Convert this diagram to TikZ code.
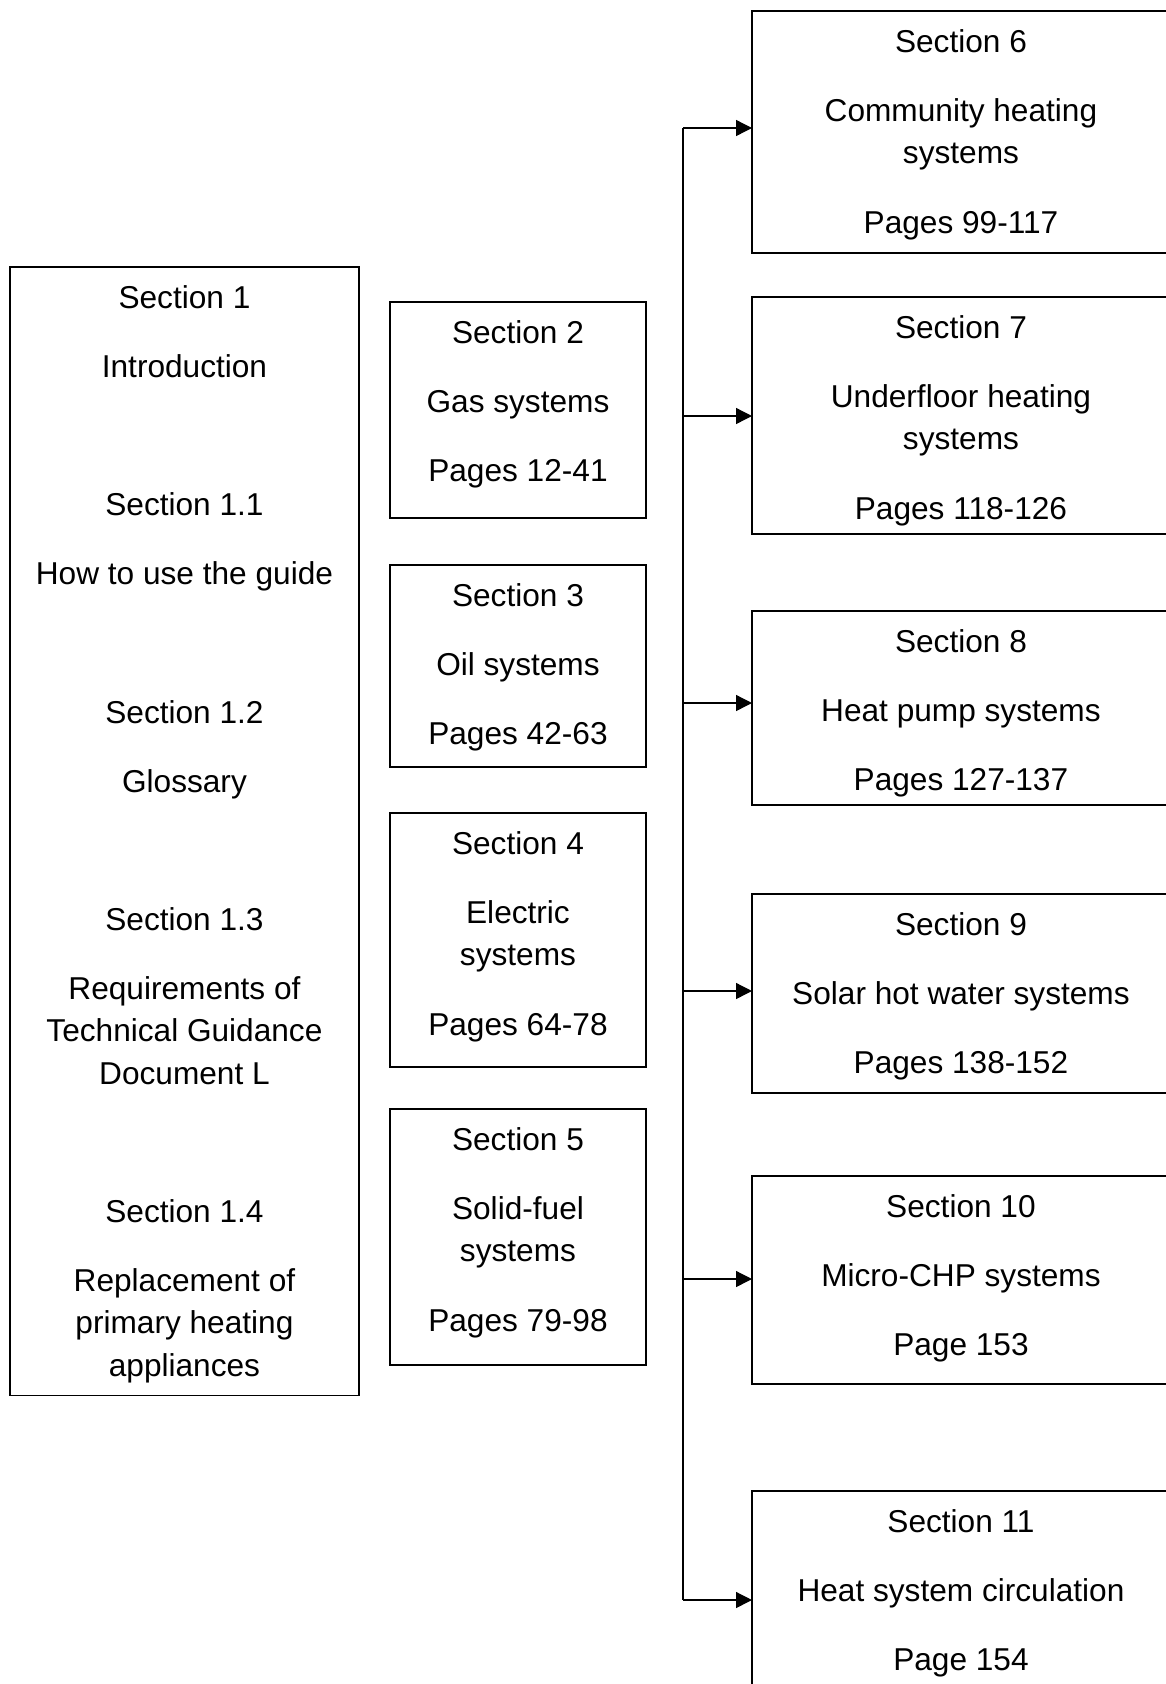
\documentclass[tikz,border=0pt]{standalone}
\usepackage{fontspec}
\setmainfont{Liberation Sans}
\usetikzlibrary{arrows.meta, positioning}
\tikzstyle{box} = [draw, line width=0.75pt, inner sep=0pt, outer sep=0pt, anchor=north west]
\tikzstyle{arrow} = [line width=0.75pt, -{Triangle[length=9pt, width=9pt]}]
\newcommand{\boxtext}[3]{\parbox[t][#2][t]{#1}{\centering\fontsize{18}{24.1}\selectfont\vspace*{6.8pt}\strut #3}}
\newcommand{\pgap}{\\[15.2pt]}
\newcommand{\bgap}{\\[54.6pt]}

\begin{document}
\begin{tikzpicture}[x=0.02cm, y=-0.02cm]
    \useasboundingbox (0,0) rectangle (1166,1684);
    \clip (0,0) rectangle (1166,1684);

    % Section 1
    \node[box] (s1) at (10,267) {\boxtext{6.98cm}{22.58cm}{Section 1\pgap Introduction\bgap
        Section 1.1\pgap How to use the guide\bgap
        Section 1.2\pgap Glossary\bgap
        Section 1.3\pgap Requirements of\\ Technical Guidance\\ Document L\bgap
        Section 1.4\pgap Replacement of\\ primary heating\\ appliances}};

    % Sections 2-5
    \node[box] (s2) at (390,302) {\boxtext{5.12cm}{4.32cm}{Section 2\pgap Gas systems\pgap Pages 12-41}};
    \node[box] (s3) at (390,565) {\boxtext{5.12cm}{4.04cm}{Section 3\pgap Oil systems\pgap Pages 42-63}};
    \node[box] (s4) at (390,813) {\boxtext{5.12cm}{5.08cm}{Section 4\pgap Electric\\ systems\pgap Pages 64-78}};
    \node[box] (s5) at (390,1109) {\boxtext{5.12cm}{5.12cm}{Section 5\pgap Solid-fuel\\ systems\pgap Pages 79-98}};

    % Sections 6-11
    \node[box] (s6) at (752,11) {\boxtext{8.36cm}{4.84cm}{Section 6\pgap Community heating\\ systems\pgap Pages 99-117}};
    \node[box] (s7) at (752,297) {\boxtext{8.36cm}{4.74cm}{Section 7\pgap Underfloor heating\\ systems\pgap Pages 118-126}};
    \node[box] (s8) at (752,611) {\boxtext{8.36cm}{3.88cm}{Section 8\pgap Heat pump systems\pgap Pages 127-137}};
    \node[box] (s9) at (752,894) {\boxtext{8.36cm}{3.98cm}{Section 9\pgap Solar hot water systems\pgap Pages 138-152}};
    \node[box] (s10) at (752,1176) {\boxtext{8.36cm}{4.16cm}{Section 10\pgap Micro-CHP systems\pgap Page 153}};
    \node[box] (s11) at (752,1491) {\boxtext{8.36cm}{4.80cm}{Section 11\pgap Heat system circulation\pgap Page 154}};

    % Arrows
    \foreach \n/\y in {6/128, 7/416, 8/703, 9/991, 10/1279, 11/1600}
        \coordinate (j\n) at (683,\y);
    \draw[line width=0.75pt] (j6) -- (j11);
    \foreach \n in {6,...,11}
        \draw[arrow] (j\n) -- (j\n -| s\n.west);
\end{tikzpicture}
\end{document}
